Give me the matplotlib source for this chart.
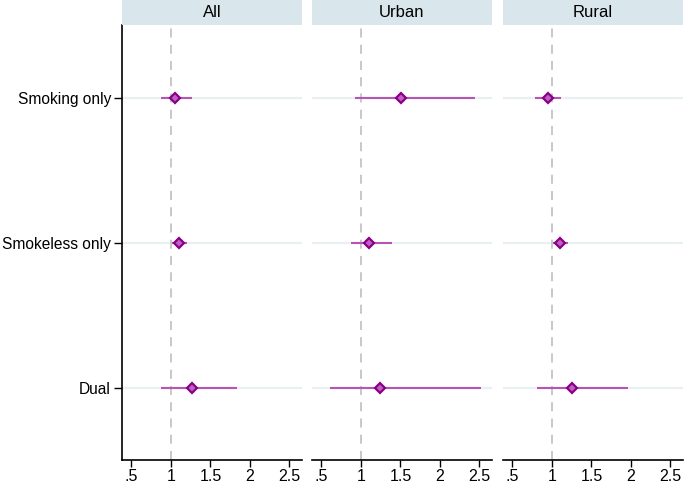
import matplotlib
matplotlib.use("Agg")
import matplotlib.pyplot as plt

plt.rcParams['font.family'] = ['Liberation Sans', 'DejaVu Sans']

categories = ["Smoking only", "Smokeless only", "Dual"]
panels = ["All", "Urban", "Rural"]
estimates = {
    "All":   [1.055, 1.105, 1.27],
    "Urban": [1.51, 1.10, 1.24],
    "Rural": [0.95, 1.10, 1.26],
}
lower = {
    "All":   [0.87, 1.01, 0.87],
    "Urban": [0.92, 0.87, 0.61],
    "Rural": [0.78, 1.01, 0.81],
}
upper = {
    "All":   [1.27, 1.20, 1.84],
    "Urban": [2.45, 1.39, 2.52],
    "Rural": [1.12, 1.20, 1.96],
}
xticks = [0.5, 1, 1.5, 2, 2.5]
xticklabels = [".5", "1", "1.5", "2", "2.5"]

W, H = 685, 486
fig = plt.figure(figsize=(W / 100, H / 100), dpi=100)

lefts = [122, 312, 503]
pw = 180
top, bottom = 25, 460
strip_top = 0

for i, name in enumerate(panels):
    ax = fig.add_axes([lefts[i] / W, 1 - bottom / H, pw / W, (bottom - top) / H])
    ypos = list(range(len(categories)))
    for y in ypos:
        ax.axhline(y, color="#eaf0f2", lw=1.6, zorder=0)
    ax.axvline(1, color="#c4c4c4", lw=1.3, ls=(0, (5, 4)), zorder=1)
    for y, e, lo, hi in zip(ypos, estimates[name], lower[name], upper[name]):
        ax.plot([lo, hi], [y, y], color="#b755b7", lw=1.5, zorder=2, solid_capstyle="butt")
        ax.plot([e], [y], marker="D", ms=5, mfc="#c060c0", mec="#880088", mew=1.6, zorder=3)
    ax.set_xlim(0.38, 2.66)
    ax.set_ylim(len(categories) - 0.5, -0.5)
    ax.set_xticks(xticks)
    ax.set_xticklabels(xticklabels, fontsize=11.5)
    ax.tick_params(axis="x", direction="out", length=5, width=1, pad=1.5)
    for s in ["top", "right"]:
        ax.spines[s].set_visible(False)
    ax.spines["bottom"].set_linewidth(1.2)
    if i == 0:
        ax.set_yticks(ypos)
        ax.set_yticklabels(categories, fontsize=11.2)
        ax.tick_params(axis="y", direction="out", length=6, width=1, pad=2)
        ax.spines["left"].set_linewidth(1.2)
    else:
        ax.set_yticks([])
        ax.spines["left"].set_visible(False)
    # strip
    sax = fig.add_axes([lefts[i] / W, 1 - top / H, pw / W, (top - strip_top) / H])
    sax.set_facecolor("#d9e6ec")
    sax.set_xticks([])
    sax.set_yticks([])
    for s in sax.spines.values():
        s.set_visible(False)
    sax.text(0.5, 0.5, name, ha="center", va="center", fontsize=12, transform=sax.transAxes)

fig.savefig("out.png", dpi=100)
